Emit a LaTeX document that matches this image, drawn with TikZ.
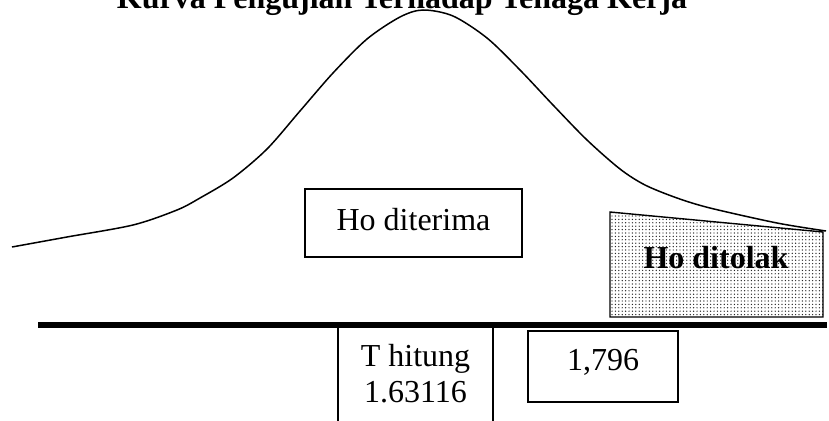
\documentclass[tikz,border=0pt]{standalone}
\usepackage{fontspec}
\setmainfont{Liberation Serif}
\usetikzlibrary{patterns.meta}
\begin{document}
\begin{tikzpicture}[x=1pt,y=-1pt,
  big/.style={font=\fontsize{32}{36}\selectfont},
  boxed/.style={draw,line width=1.3pt,inner sep=0pt,big},
  curveline/.style={line width=1.5pt}]
\useasboundingbox (0,0) rectangle (829,420);
\fill[white] (0,0) rectangle (829,420);
% title
\node[anchor=base,font=\fontsize{32}{36}\selectfont\bfseries] (title) at (402,8.5) {Kurva Pengujian Terhadap Tenaga Kerja};
% rejection region
\coordinate (r1) at (610,212);
\coordinate (r2) at (823,232);
\coordinate (r3) at (823,317);
\coordinate (r4) at (610,317);
\filldraw[line width=1.4pt,pattern={Dots[distance=3.4pt,radius=0.7pt]},pattern color=black!85] (r1) -- (r2) -- (r3) -- (r4) -- cycle;
\node[anchor=base,font=\fontsize{32}{36}\selectfont\bfseries] (tolak) at (716,268) {Ho ditolak};
% bell curve
\draw[curveline] plot[smooth,tension=0.5] coordinates {(12,247) (67,237) (133,225) (177,210) (200,198) (233,178) (267,149) (300,111) (333,73) (367,39) (400,17) (423,10) (453,16) (487,38) (520,70) (553,105) (587,140) (620,169) (645,185) (677,198) (710,208) (777,223) (826,231)};
% acceptance box
\node[boxed,minimum width=217pt,minimum height=68pt,text height=22pt,text depth=8pt] (terima) at (413.5,223) {Ho diterima};
% axis
\coordinate (axL) at (38,325);
\coordinate (axR) at (827,325);
% T hitung box
\node[boxed,minimum width=155pt,minimum height=98pt,align=center] (thit) at (415.5,374) {T hitung\\1.63116};
\draw[line width=5.5pt] (axL) -- (axR);
% critical value box
\node[boxed,minimum width=150pt,minimum height=71pt,text height=22pt,text depth=15pt] (crit) at (603,366.5) {1,796};
\end{tikzpicture}
\end{document}
